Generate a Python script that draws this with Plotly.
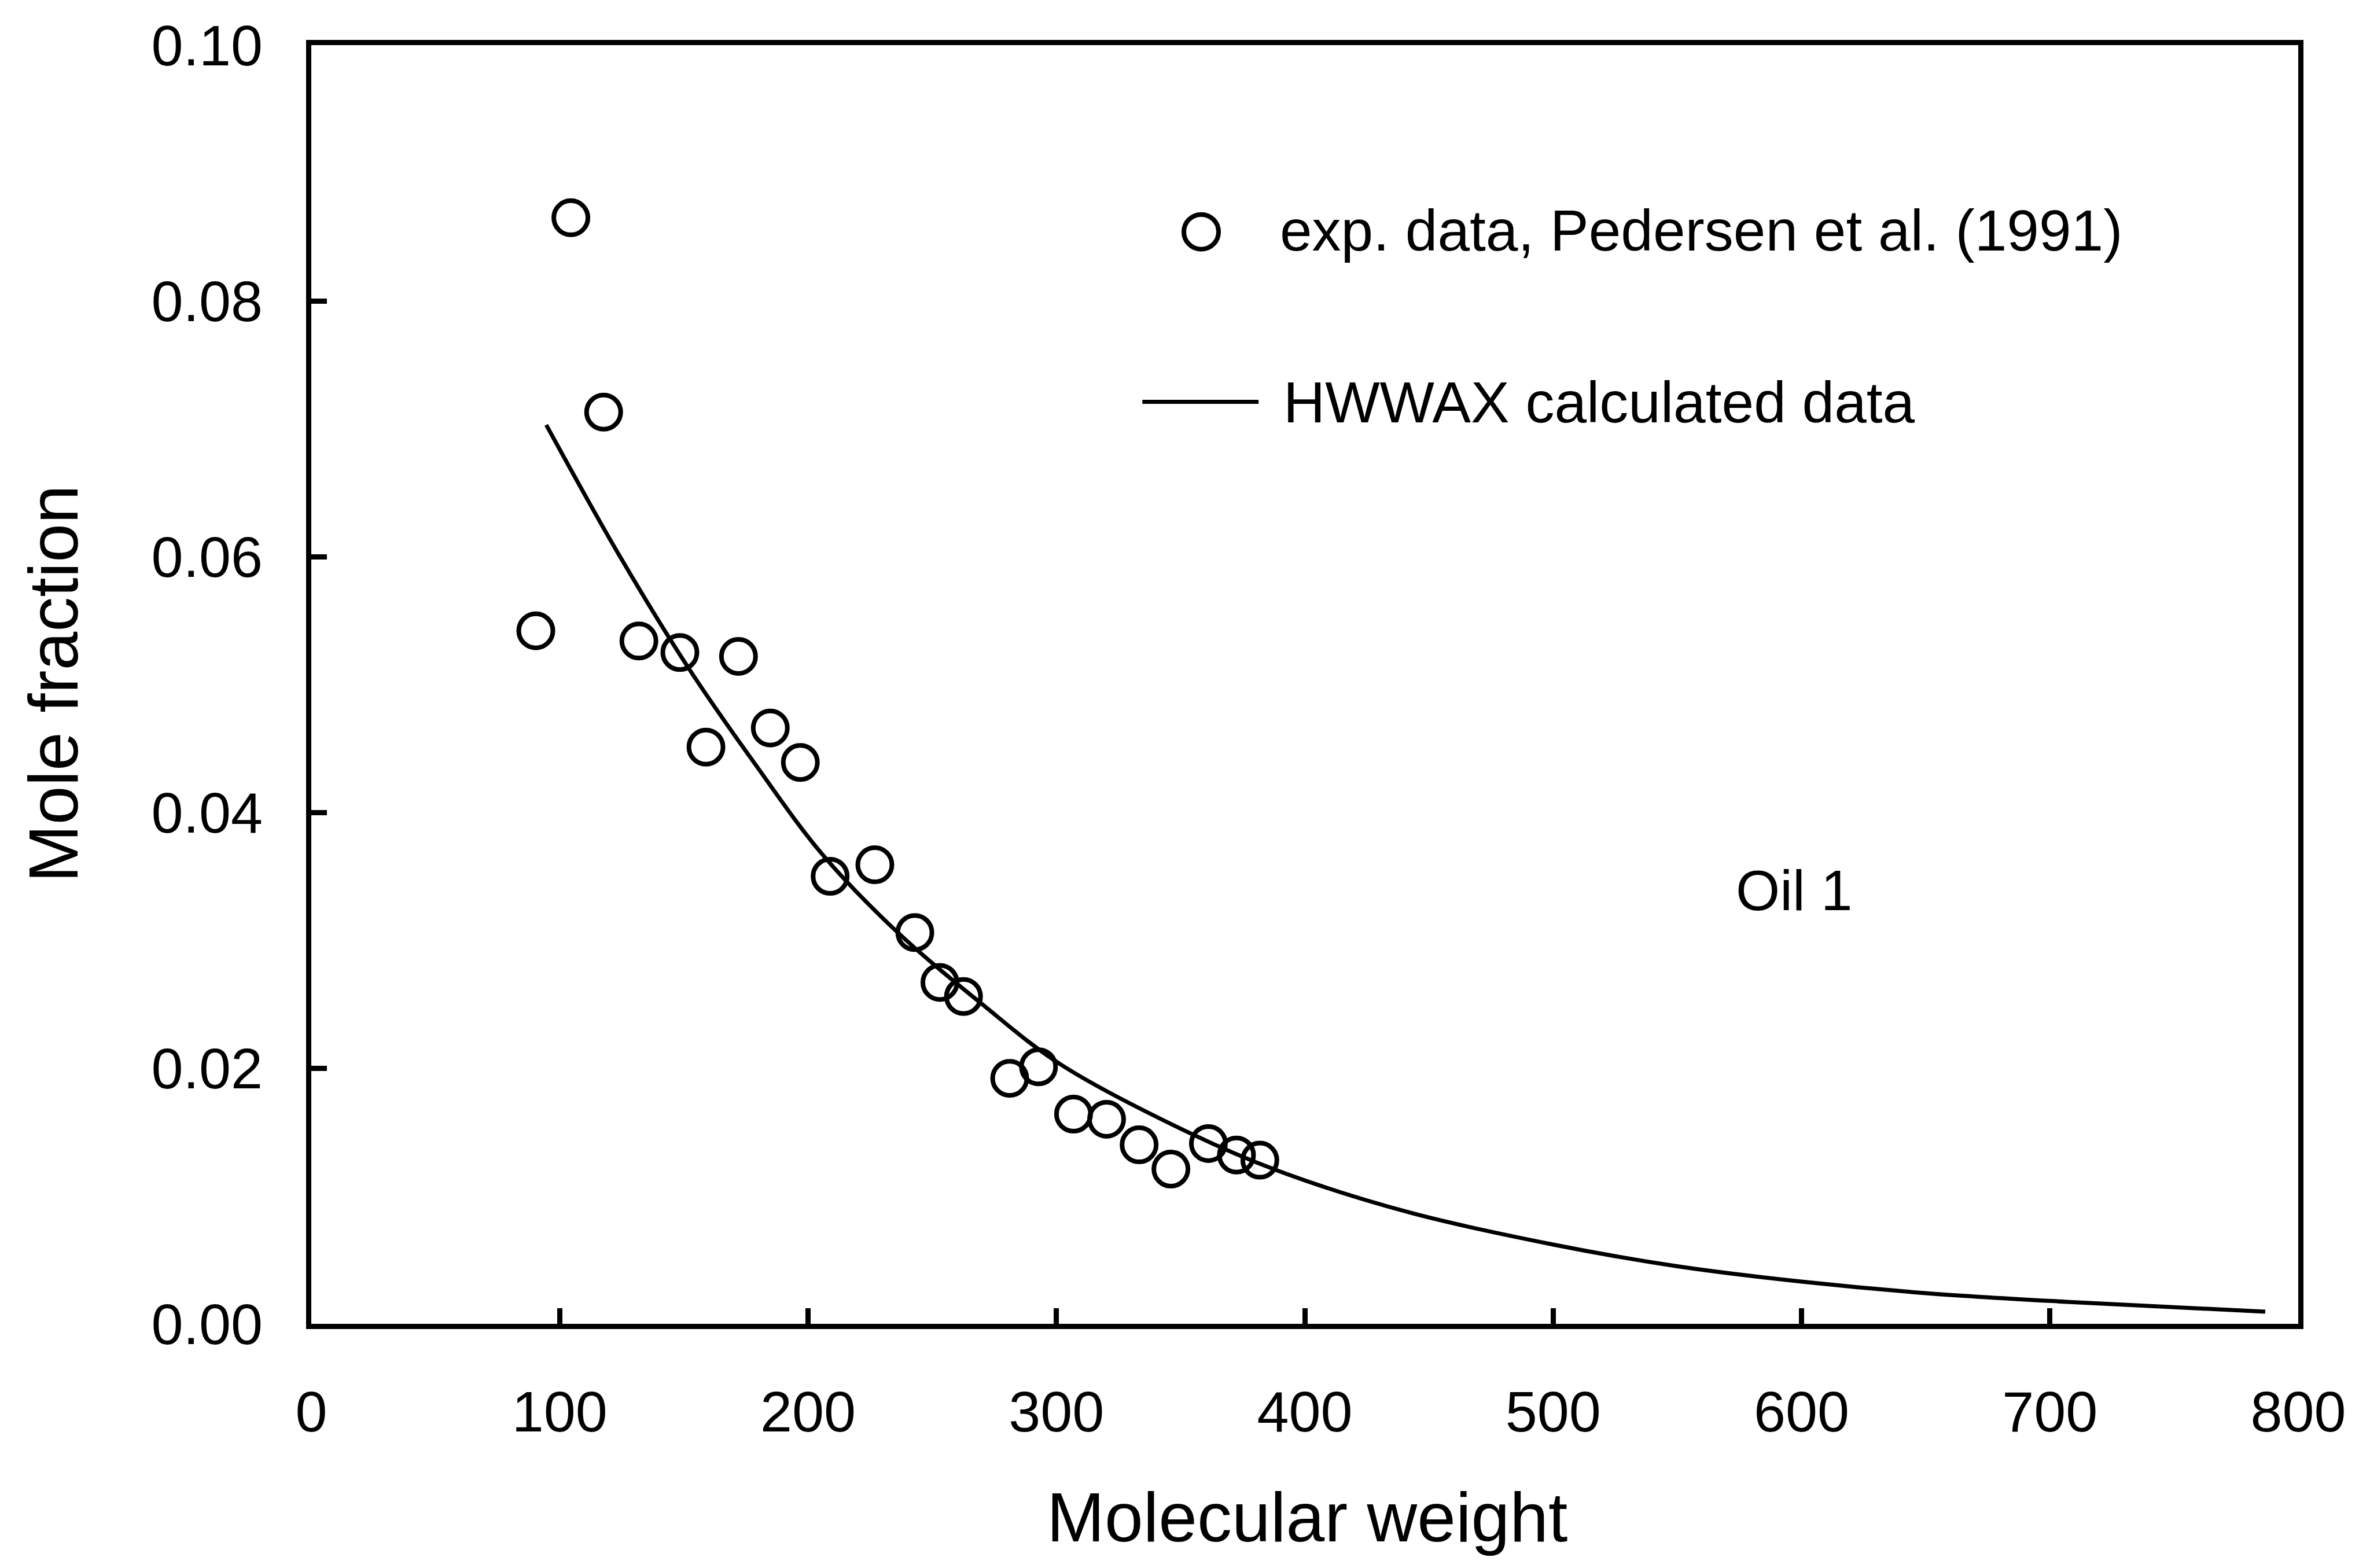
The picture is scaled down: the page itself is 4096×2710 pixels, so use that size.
import plotly.graph_objects as go

# Experimental data (Pedersen et al., 1991)
exp_mw = [90.4, 104.5, 117.7, 131.9, 148.4, 158.9, 172.0, 184.8, 196.9, 208.9,
          226.9, 243.0, 253.1, 262.6, 281.2, 292.8, 306.9, 320.2, 333.3, 346.1,
          361.2, 372.5, 381.9]
exp_x = [0.0542, 0.0865, 0.0713, 0.0534, 0.0525, 0.0451, 0.0522, 0.0466, 0.0439, 0.0350,
         0.0359, 0.0306, 0.0267, 0.0256, 0.0192, 0.0201, 0.0164, 0.0160, 0.0140, 0.0121,
         0.0141, 0.0132, 0.0128]

# HWWAX calculated curve
calc_mw = [94.6, 124.0, 152.5, 178.6, 205.4, 235.6, 270.1, 301.6, 353.9, 388.8,
           442.3, 500.0, 550.0, 600.0, 650.0, 706.7, 786.7]
calc_x = [0.0703, 0.0601, 0.0511, 0.0438, 0.0368, 0.0307, 0.0250, 0.0203, 0.0149, 0.0120,
          0.0087, 0.0062, 0.0045, 0.0033, 0.0024, 0.00172, 0.00095]

x_ticks = [0, 100, 200, 300, 400, 500, 600, 700, 800]
y_ticks = [0.00, 0.02, 0.04, 0.06, 0.08, 0.10]
y_tick_text = ["0.00", "0.02", "0.04", "0.06", "0.08", "0.10"]

label_exp = "exp. data, Pedersen et al. (1991)"
label_calc = "HWWAX calculated data"
note = "Oil 1"

FONT = "Liberation Sans, Arial, Helvetica, sans-serif"

fig = go.Figure()
fig.add_trace(go.Scatter(
    x=calc_mw, y=calc_x, mode="lines", name=label_calc,
    line=dict(color="black", width=7, shape="spline", smoothing=1.0),
    showlegend=False))
fig.add_trace(go.Scatter(
    x=exp_mw, y=exp_x, mode="markers", name=label_exp,
    marker=dict(symbol="circle-open", size=59, color="black",
                line=dict(color="black", width=8)),
    showlegend=False))

axis_common = dict(
    showline=True, linecolor="black", linewidth=9, mirror=True,
    ticks="inside", ticklen=27, tickwidth=9, tickcolor="black",
    showgrid=False, zeroline=False,
    tickfont=dict(family=FONT, size=99, color="black"),
)

fig.update_xaxes(range=[0, 800], tickvals=x_ticks, ticklabelstandoff=58, **axis_common)
fig.update_yaxes(range=[0, 0.10], tickvals=y_ticks, ticktext=y_tick_text,
                 ticklabelstandoff=55, **axis_common)

# custom legend
fig.add_shape(type="circle", xref="x", yref="y", xsizemode="pixel", ysizemode="pixel",
              xanchor=358.3, yanchor=0.0854, x0=-30, x1=30, y0=-30, y1=30,
              line=dict(color="black", width=8))
fig.add_shape(type="line", xref="x", yref="y", x0=334.6, x1=381.4, y0=0.0721, y1=0.0721,
              line=dict(color="black", width=7))
fig.add_annotation(x=389.5, y=0.0855, xref="x", yref="y", text=label_exp, showarrow=False,
                   xanchor="left", yanchor="middle", font=dict(family=FONT, size=100, color="black"))
fig.add_annotation(x=390.8, y=0.0721, xref="x", yref="y", text=label_calc, showarrow=False,
                   xanchor="left", yanchor="middle", font=dict(family=FONT, size=100, color="black"))
fig.add_annotation(x=573.2, y=0.0339, xref="x", yref="y", text=note, showarrow=False,
                   xanchor="left", yanchor="middle", font=dict(family=FONT, size=98, color="black"))

# axis titles
fig.add_annotation(x=0.5013, y=-0.1511, xref="paper", yref="paper", text="Molecular weight",
                   showarrow=False, xanchor="center", yanchor="middle",
                   font=dict(family=FONT, size=120, color="black"))
fig.add_annotation(x=-0.1300, y=0.5006, xref="paper", yref="paper", text="Mole fraction",
                   showarrow=False, xanchor="center", yanchor="middle", textangle=-90,
                   font=dict(family=FONT, size=120, color="black"))

fig.update_layout(
    width=4096, height=2710,
    margin=dict(l=538, r=124, t=78, b=422, pad=0),
    paper_bgcolor="white", plot_bgcolor="white",
    showlegend=False,
)

fig.write_html("out.html")
